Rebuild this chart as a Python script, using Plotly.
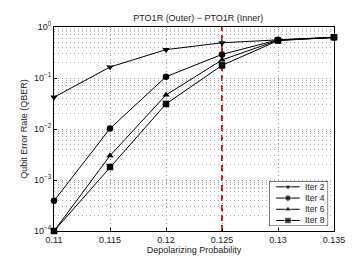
import plotly.graph_objects as go

x_vals = [0.11, 0.115, 0.12, 0.125, 0.13, 0.135]
iter2 = [0.042, 0.164, 0.36, 0.49, 0.56, 0.63]
iter4 = [3.9e-4, 0.0102, 0.106, 0.29, 0.56, 0.62]
iter6 = [1.0e-4, 0.0030, 0.0465, 0.226, 0.55, 0.62]
iter8 = [1.0e-4, 0.0018, 0.031, 0.177, 0.54, 0.63]
series_names = ["Iter 2", "Iter 4", "Iter 6", "Iter 8"]
symbols = ["triangle-down", "circle", "triangle-up", "square"]
x_ticks = [0.11, 0.115, 0.12, 0.125, 0.13, 0.135]
x_ticklabels = ["0.11", "0.115", "0.12", "0.125", "0.13", "0.135"]
y_ticks = [1e-4, 1e-3, 1e-2, 1e-1, 1]
y_ticklabels = ["10<sup>−4</sup>", "10<sup>−3</sup>", "10<sup>−2</sup>", "10<sup>−1</sup>", "10<sup>0</sup>"]
threshold = 0.125

fig = go.Figure()
fig.add_shape(type="line", x0=threshold, x1=threshold, y0=0, y1=1,
              xref="x", yref="y domain", layer="below",
              line=dict(color="red", width=2, dash="6px,4px"))

for name, ys, sym in zip(series_names, [iter2, iter4, iter6, iter8], symbols):
    fig.add_trace(go.Scatter(
        x=x_vals, y=ys, name=name, mode="lines+markers",
        line=dict(color="black", width=1),
        marker=dict(symbol=sym, size=6.5, color="black"),
        cliponaxis=False, showlegend=False,
    ))

# manual legend in an inset axes
n = len(series_names)
fig.add_shape(type="rect", xref="x2", yref="y2",
              x0=0, x1=1, y0=0, y1=n, layer="below",
              fillcolor="white", line=dict(color="black", width=1))
for i, (name, sym) in enumerate(zip(series_names, symbols)):
    yy = n - 0.5 - i
    fig.add_trace(go.Scatter(
        x=[0.12, 0.32, 0.52], y=[yy, yy, yy], mode="lines+markers",
        line=dict(color="black", width=1),
        marker=dict(symbol=sym, size=[0, 6.5, 0], color="black"),
        xaxis="x2", yaxis="y2", showlegend=False, hoverinfo="skip",
    ))
    fig.add_annotation(x=0.57, y=yy, xref="x2", yref="y2", text=name,
                       showarrow=False, xanchor="left", yanchor="middle",
                       font=dict(size=8.5))

grid_dash = "1px,3px"
fig.update_layout(
    width=359, height=257,
    margin=dict(l=46, r=33, t=19, b=29),
    paper_bgcolor="white", plot_bgcolor="white",
    font=dict(family="Liberation Sans, Arial, sans-serif", size=9, color="#222"),
    title=dict(text="PTO1R (Outer) − PTO1R (Inner)", x=0.53, xanchor="center",
               y=0.975, yanchor="top", font=dict(size=9)),
    showlegend=False,
    xaxis=dict(
        range=[0.11, 0.135], tickvals=x_ticks, ticktext=x_ticklabels,
        showline=True, linecolor="black", linewidth=1, mirror=True,
        ticks="inside", ticklen=3, tickcolor="black", tickfont=dict(size=9),
        showgrid=True, gridcolor="#999999", griddash=grid_dash, gridwidth=1,
        zeroline=False,
        title=dict(text="Depolarizing Probability", standoff=2, font=dict(size=9)),
    ),
    yaxis=dict(
        type="log", range=[-4, 0], tickvals=y_ticks, ticktext=y_ticklabels,
        showline=True, linecolor="black", linewidth=1, mirror=True,
        ticks="inside", ticklen=3, tickcolor="black", tickfont=dict(size=9),
        showgrid=True, gridcolor="#999999", griddash=grid_dash, gridwidth=1,
        minor=dict(showgrid=True, gridcolor="#a8a8a8", griddash=grid_dash,
                   dtick="D1", ticks=""),
        zeroline=False,
        title=dict(text="Qubit Error Rate (QBER)", standoff=4, font=dict(size=9)),
    ),
    xaxis2=dict(domain=[0.768, 0.979], range=[0, 1], anchor="y2",
                visible=False, fixedrange=True),
    yaxis2=dict(domain=[0.024, 0.244], range=[0, n], anchor="x2",
                visible=False, fixedrange=True),
)

fig.write_html("out.html")
